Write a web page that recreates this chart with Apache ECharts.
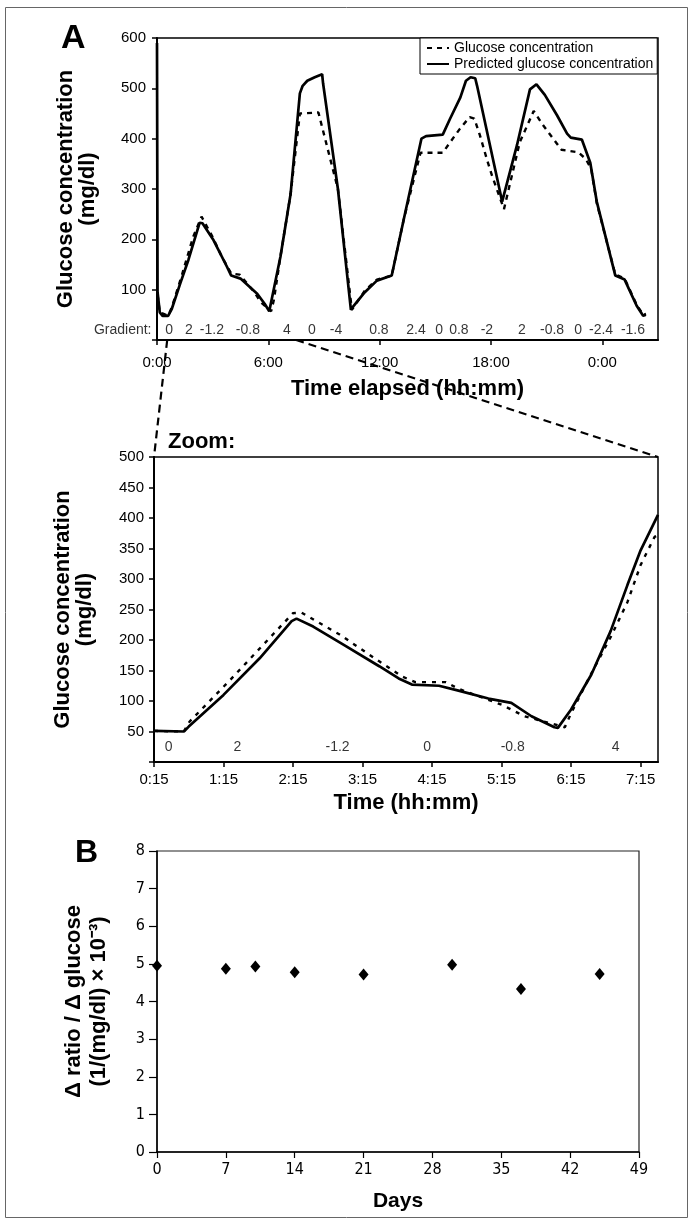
<!DOCTYPE html>
<html><head><meta charset="utf-8">
<script src="https://cdn.jsdelivr.net/npm/echarts@6/dist/echarts.min.js"></script>
<style>html,body{margin:0;padding:0;background:#fff}#c{width:694px;height:1224px}</style>
</head><body><div id="c"></div>
<script>
// ---------- DATA ----------
// Panel A (top): time elapsed in hours, glucose in mg/dl
const topTimeTicks = [0, 6, 12, 18, 24];
const topTimeTickLabels = ['0:00', '6:00', '12:00', '18:00', '0:00'];

const predictedTop = [
  [0.0, 590], [0.03, 95], [0.15, 55], [0.3, 48], [0.6, 48], [0.8, 62], [1.25, 112], [1.7, 160],
  [2.3, 233], [2.45, 232], [3.05, 198], [3.75, 147], [4.0, 128], [4.5, 122], [5.4, 92], [5.8, 72],
  [6.05, 57], [6.65, 165], [7.2, 290], [7.7, 490], [7.85, 505], [8.1, 515], [8.5, 522], [8.9, 528],
  [8.95, 510], [9.75, 300], [10.45, 60], [10.6, 68], [11.2, 95], [11.85, 118], [12.65, 128],
  [13.3, 240], [14.25, 400], [14.5, 405], [15.4, 408], [15.8, 440], [16.35, 482], [16.65, 515],
  [16.9, 522], [17.15, 520], [17.25, 505], [18.6, 275], [19.4, 387], [20.1, 498], [20.45, 508],
  [20.9, 487], [21.55, 447], [22.1, 410], [22.3, 402], [22.9, 398], [23.35, 352], [23.7, 275],
  [24.7, 128], [25.2, 120], [25.85, 68], [26.2, 48], [26.35, 50]
];
const glucoseTop = [
  [0.03, 90], [0.15, 55], [0.6, 48], [0.8, 65], [1.35, 130], [1.95, 205], [2.4, 245], [2.95, 208],
  [3.5, 165], [4.0, 132], [4.45, 130], [5.25, 95], [5.6, 75], [6.15, 57], [6.3, 80], [6.65, 165],
  [7.2, 290], [7.7, 450], [8.7, 452], [8.85, 430], [9.75, 300], [10.5, 60], [11.2, 98], [11.85, 120],
  [12.65, 128], [13.3, 240], [14.2, 372], [15.4, 372], [15.8, 393], [16.33, 420], [16.85, 443],
  [17.1, 440], [17.4, 407], [17.77, 360], [18.05, 327], [18.7, 260], [19.55, 393], [20.0, 430],
  [20.3, 455], [20.8, 427], [21.35, 400], [21.8, 378], [22.7, 373], [23.1, 360], [23.4, 340],
  [23.7, 272], [24.7, 130], [25.2, 122], [25.85, 70], [26.2, 50], [26.35, 52]
];
const gradientTopTimes = [0.65, 1.72, 2.96, 4.9, 7.0, 8.35, 9.65, 11.96, 13.96, 15.2, 16.27, 17.78, 19.67, 21.29, 22.69, 23.93, 25.65];
const gradientTopLabels = ['0', '2', '-1.2', '-0.8', '4', '0', '-4', '0.8', '2.4', '0', '0.8', '-2', '2', '-0.8', '0', '-2.4', '-1.6'];

// Zoom panel: time in hours (0:15 .. 7:30)
const zoomTimeTicks = [0.25, 1.25, 2.25, 3.25, 4.25, 5.25, 6.25, 7.25];
const zoomTimeTickLabels = ['0:15', '1:15', '2:15', '3:15', '4:15', '5:15', '6:15', '7:15'];
const predictedZoom = [
  [0.25, 51], [0.68, 50], [0.75, 58], [1.25, 110], [1.77, 170], [2.23, 231], [2.3, 235], [2.54, 222],
  [3.01, 190], [3.49, 157], [3.77, 137], [3.96, 127], [4.35, 125], [4.63, 117], [5.06, 104],
  [5.39, 97], [5.68, 75], [6.01, 57], [6.06, 56], [6.25, 86], [6.54, 143], [6.82, 215], [7.06, 290],
  [7.25, 347], [7.5, 405]
];
const glucoseZoom = [
  [0.25, 51], [0.68, 50], [0.76, 66], [1.35, 135], [1.96, 209], [2.25, 244], [2.37, 245], [2.92, 209],
  [3.49, 165], [3.82, 140], [4.01, 131], [4.45, 131], [4.63, 120], [5.25, 94], [5.58, 75], [6.16, 57],
  [6.25, 80], [6.54, 145], [6.82, 205], [7.06, 262], [7.25, 323], [7.45, 369], [7.5, 372]
];
const gradientZoomTimes = [0.46, 1.45, 2.89, 4.18, 5.41, 6.89];
const gradientZoomLabels = ['0', '2', '-1.2', '0', '-0.8', '4'];

// Panel B
const sensitivityDays = [0, 7, 10, 14, 21, 30, 37, 45];
const sensitivityValues = [4.95, 4.87, 4.93, 4.78, 4.72, 4.98, 4.33, 4.73];

// ---------- CHART ----------
const FONT = "'Liberation Sans', Arial, Helvetica, sans-serif";
const NARROW = "'Liberation Sans Narrow', 'Arial Narrow', 'DejaVu Sans Condensed', sans-serif";
const GRADIENT_LEVEL_TOP = 20;
const GRADIENT_LEVEL_ZOOM = 24;

const chart = echarts.init(document.getElementById('c'), null, {renderer: 'canvas'});

function tickFmt(ticks, labels) {
  return v => { const i = ticks.findIndex(t => Math.abs(t - v) < 1e-6); return i >= 0 ? labels[i] : ''; };
}
function gradientData(times, labels, level) {
  const d = [{value: [0, level], label: {show: true, formatter: 'Gradient:', position: 'left', distance: 5}}];
  times.forEach((t, i) => d.push({value: [t, level], name: labels[i]}));
  return d;
}
const titleStyle = {fontFamily: FONT, fontWeight: 'bold', fontSize: 22, color: '#000', lineHeight: 22};

const option = {
  animation: false,
  backgroundColor: '#fff',
  textStyle: {fontFamily: FONT, color: '#000'},
  legend: {
    data: ['Glucose concentration', 'Predicted glucose concentration'],
    orient: 'vertical', left: 420, top: 38,
    padding: [3, 4, 3, 6], itemGap: 2, itemWidth: 22, itemHeight: 14,
    backgroundColor: '#fff', borderColor: '#000', borderWidth: 1,
    itemStyle: {opacity: 0},
    textStyle: {fontFamily: FONT, fontSize: 14, color: '#000'},
    selectedMode: false
  },
  grid: [
    {left: 157, top: 38, width: 501, height: 302, show: true, borderColor: '#000', borderWidth: 1.5, outerBoundsMode: 'none'},
    {left: 154, top: 457, width: 504, height: 305, show: true, borderColor: '#000', borderWidth: 1.5, outerBoundsMode: 'none'},
    {left: 157, top: 851, width: 482, height: 301, show: true, borderColor: '#222', borderWidth: 1.2, outerBoundsMode: 'none'}
  ],
  xAxis: [
    {gridIndex: 0, type: 'value', min: 0, max: 27,
      name: 'Time elapsed (hh:mm)', nameLocation: 'middle', nameGap: 38, nameTextStyle: titleStyle,
      axisLine: {lineStyle: {color: '#000', width: 2}},
      axisTick: {show: true, inside: false, length: 5, lineStyle: {color: '#000', width: 1.5}, customValues: topTimeTicks},
      axisLabel: {customValues: topTimeTicks, formatter: tickFmt(topTimeTicks, topTimeTickLabels), fontFamily: FONT, fontSize: 15, color: '#000', margin: 15},
      splitLine: {show: false}},
    {gridIndex: 1, type: 'value', min: 0.25, max: 7.5,
      name: 'Time (hh:mm)', nameLocation: 'middle', nameGap: 30, nameTextStyle: titleStyle,
      axisLine: {lineStyle: {color: '#000', width: 2}},
      axisTick: {show: true, length: 5, lineStyle: {color: '#000', width: 1.5}, customValues: zoomTimeTicks},
      axisLabel: {customValues: zoomTimeTicks, formatter: tickFmt(zoomTimeTicks, zoomTimeTickLabels), fontFamily: FONT, fontSize: 15, color: '#000', margin: 10},
      splitLine: {show: false}},
    {gridIndex: 2, type: 'value', min: 0, max: 49, interval: 7,
      name: 'Days', nameLocation: 'middle', nameGap: 38, nameTextStyle: Object.assign({}, titleStyle, {fontSize: 21}),
      axisLine: {lineStyle: {color: '#000', width: 1.5}},
      axisTick: {show: true, length: 6, lineStyle: {color: '#000', width: 1.2}},
      axisLabel: {fontFamily: NARROW, fontSize: 16, color: '#000', margin: 10},
      splitLine: {show: false}}
  ],
  yAxis: [
    {gridIndex: 0, type: 'value', min: 0, max: 600, interval: 100,
      name: 'Glucose concentration\n(mg/dl)', nameLocation: 'middle', nameGap: 58, nameRotate: 90, nameMoveOverlap: false,
      nameTextStyle: titleStyle,
      axisLine: {lineStyle: {color: '#000', width: 2}},
      axisTick: {show: true, length: 5, lineStyle: {color: '#000', width: 1.5}},
      axisLabel: {formatter: v => v === 0 ? '' : String(v), fontFamily: FONT, fontSize: 15, color: '#000', margin: 11},
      splitLine: {show: false}},
    {gridIndex: 1, type: 'value', min: 0, max: 500, interval: 50,
      name: 'Glucose concentration\n(mg/dl)', nameLocation: 'middle', nameGap: 58, nameRotate: 90, nameMoveOverlap: false,
      nameTextStyle: titleStyle,
      axisLine: {lineStyle: {color: '#000', width: 2}},
      axisTick: {show: true, length: 5, lineStyle: {color: '#000', width: 1.5}},
      axisLabel: {formatter: v => v === 0 ? '' : String(v), fontFamily: FONT, fontSize: 15, color: '#000', margin: 10},
      splitLine: {show: false}},
    {gridIndex: 2, type: 'value', min: 0, max: 8, interval: 1,
      name: 'Δ ratio / Δ glucose\n(1/(mg/dl) × 10⁻³)', nameLocation: 'middle', nameGap: 46, nameRotate: 90, nameMoveOverlap: false,
      nameTextStyle: Object.assign({}, titleStyle, {fontSize: 22, lineHeight: 25}),
      axisLine: {lineStyle: {color: '#000', width: 1.5}},
      axisTick: {show: true, length: 8, lineStyle: {color: '#000', width: 1.2}},
      axisLabel: {fontFamily: NARROW, fontSize: 16, color: '#000', margin: 12},
      splitLine: {show: false}}
  ],
  series: [
    {name: 'Glucose concentration', type: 'line', xAxisIndex: 0, yAxisIndex: 0, data: glucoseTop,
      symbol: 'none', lineStyle: {color: '#000', width: 2.4, type: [5, 5]}, itemStyle: {color: '#000'}, z: 3},
    {name: 'Predicted glucose concentration', type: 'line', xAxisIndex: 0, yAxisIndex: 0, data: predictedTop,
      symbol: 'none', lineStyle: {color: '#000', width: 2.7}, itemStyle: {color: '#000'}, z: 4},
    {name: 'gradientTop', type: 'scatter', xAxisIndex: 0, yAxisIndex: 0, silent: true,
      data: gradientData(gradientTopTimes, gradientTopLabels, GRADIENT_LEVEL_TOP),
      symbolSize: 1, itemStyle: {color: 'rgba(0,0,0,0)'},
      label: {show: true, position: 'inside', formatter: p => p.name, fontFamily: FONT, fontSize: 14, color: '#000'}},
    {name: 'Glucose concentration', type: 'line', xAxisIndex: 1, yAxisIndex: 1, data: glucoseZoom,
      symbol: 'none', lineStyle: {color: '#000', width: 2.4, type: [4, 6]}, itemStyle: {color: '#000'}, z: 3},
    {name: 'Predicted glucose concentration', type: 'line', xAxisIndex: 1, yAxisIndex: 1, data: predictedZoom,
      symbol: 'none', lineStyle: {color: '#000', width: 2.7}, itemStyle: {color: '#000'}, z: 4},
    {name: 'gradientZoom', type: 'scatter', xAxisIndex: 1, yAxisIndex: 1, silent: true,
      data: gradientData(gradientZoomTimes, gradientZoomLabels, GRADIENT_LEVEL_ZOOM),
      symbolSize: 1, itemStyle: {color: 'rgba(0,0,0,0)'},
      label: {show: true, position: 'inside', formatter: p => p.name, fontFamily: FONT, fontSize: 14, color: '#000'}},
    {name: 'Sensitivity', type: 'scatter', xAxisIndex: 2, yAxisIndex: 2,
      data: sensitivityDays.map((d, i) => [d, sensitivityValues[i]]),
      symbol: 'diamond', symbolSize: [10, 12], itemStyle: {color: '#000', opacity: 1}, clip: false}
  ]
};
chart.setOption(option);

// Decorations: frame, panel letters, zoom connectors (positions from axes)
const pTop0 = chart.convertToPixel({gridIndex: 0}, [0.55, 0]);
const pTop1 = chart.convertToPixel({gridIndex: 0}, [7.5, 0]);
const pZ0 = chart.convertToPixel({gridIndex: 1}, [0.25, 500]);
const pZ1 = chart.convertToPixel({gridIndex: 1}, [7.5, 500]);
const dashStyle = {stroke: '#000', lineWidth: 2.2, lineDash: [8, 5]};
chart.setOption({
  graphic: [
    {type: 'rect', shape: {x: 5.5, y: 7.5, width: 682, height: 1210}, style: {fill: 'none', stroke: '#666', lineWidth: 1}, silent: true},
    {type: 'text', left: 61, top: 22, style: {text: 'A', font: 'bold 34px ' + FONT, fill: '#000'}},
    {type: 'text', left: 75, top: 837, style: {text: 'B', font: 'bold 32px ' + FONT, fill: '#000'}},
    {type: 'text', left: 168, top: 431, style: {text: 'Zoom:', font: 'bold 22px ' + FONT, fill: '#000'}},
    {type: 'line', shape: {x1: pTop0[0], y1: pTop0[1], x2: pZ0[0], y2: pZ0[1]}, style: dashStyle, z: 10},
    {type: 'line', shape: {x1: pTop1[0], y1: pTop1[1], x2: pZ1[0], y2: pZ1[1]}, style: dashStyle, z: 10}
  ]
});
</script>
</body></html>
